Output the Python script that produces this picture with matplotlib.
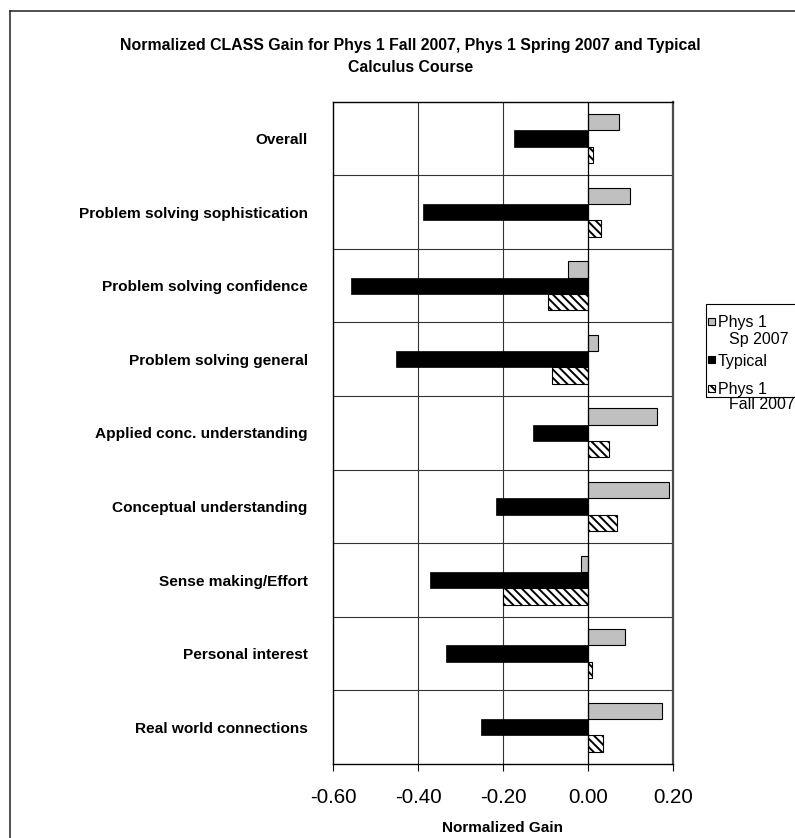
import matplotlib
matplotlib.use("Agg")
import matplotlib.pyplot as plt
from matplotlib.lines import Line2D
from matplotlib.patches import Rectangle
import numpy as np

plt.rcParams['font.family'] = ['Liberation Sans', 'DejaVu Sans']
plt.rcParams['hatch.linewidth'] = 1.4

categories = ["Overall", "Problem solving sophistication", "Problem solving confidence",
              "Problem solving general", "Applied conc. understanding", "Conceptual understanding",
              "Sense making/Effort", "Personal interest", "Real world connections"]
sp2007 = [0.073, 0.098, -0.047, 0.022, 0.162, 0.190, -0.018, 0.086, 0.174]
typical = [-0.175, -0.389, -0.559, -0.452, -0.130, -0.218, -0.372, -0.336, -0.253]
fall2007 = [0.010, 0.029, -0.096, -0.086, 0.048, 0.067, -0.201, 0.008, 0.035]
series_labels = [["Phys 1", "Sp 2007"], ["Typical"], ["Phys 1", "Fall 2007"]]
xticks = [-0.6, -0.4, -0.2, 0.0, 0.2]

W, H = 795.0, 838.0


def fx(px):
    return px / W


def fy(py):
    return 1 - py / H


fig = plt.figure(figsize=(W / 100, H / 100), dpi=100)
ax = fig.add_axes([fx(333.3), fy(764), (673.5 - 333.3) / W, (764 - 101.7) / H])

y = np.arange(len(categories))
h = 0.222
ax.barh(y - h, sp2007, height=h, color="#c0c0c0", edgecolor="black", linewidth=0.8, zorder=3)
ax.barh(y, typical, height=h, color="black", edgecolor="black", linewidth=0.5, zorder=3)
ax.barh(y + h, fall2007, height=h, color="white", edgecolor="black", linewidth=0.8,
        hatch="\\\\\\\\", zorder=3)

ax.set_xlim(-0.6, 0.2)
ax.set_ylim(len(categories) - 0.5, -0.5)

# grid: category boundaries and value gridlines
for b in np.arange(0.5, len(categories) - 0.5, 1):
    ax.axhline(b, color="#333333", lw=0.8, zorder=1)
for v in [-0.4, -0.2]:
    ax.axvline(v, color="#333333", lw=0.8, zorder=1)
ax.axvline(0, color="black", lw=0.9, zorder=4)

ax.set_yticks(y)
ax.set_yticklabels(categories, fontsize=11.1, fontweight="bold")
ax.tick_params(axis="y", length=0, pad=18.4)
ax.set_xticks(xticks)
ax.set_xticklabels(["%.2f" % t for t in xticks], fontsize=14.9)
ax.tick_params(axis="x", length=5, width=0.8, direction="out", pad=12)

for side in ["left", "top", "bottom"]:
    ax.spines[side].set_color("black")
    ax.spines[side].set_linewidth(1.0)
ax.spines["right"].set_color("#4a4a4a")
ax.spines["right"].set_linewidth(1.6)

fig.text(fx(503), fy(832), "Normalized Gain", ha="center", va="baseline",
         fontsize=11, fontweight="bold")
fig.text(fx(410.5), fy(49.8), "Normalized CLASS Gain for Phys 1 Fall 2007, Phys 1 Spring 2007 and Typical",
         ha="center", va="baseline", fontsize=11.4, fontweight="bold")
fig.text(fx(410.5), fy(72.5), "Calculus Course", ha="center", va="baseline",
         fontsize=11.4, fontweight="bold")

# outer chart frame, runs off the right and bottom edges
fig.add_artist(Line2D([fx(10), fx(10)], [fy(11), fy(850)], color="#202020", lw=1.1,
                      transform=fig.transFigure))
fig.add_artist(Line2D([fx(10), fx(810)], [fy(11), fy(11)], color="#202020", lw=1.1,
                      transform=fig.transFigure))

# legend box
fig.add_artist(Rectangle((fx(706), fy(397)), fx(120), (397 - 304) / H, fill=False,
                         edgecolor="black", lw=0.8, transform=fig.transFigure))
marker_styles = [dict(facecolor="#c0c0c0", edgecolor="black"),
                 dict(facecolor="black", edgecolor="black"),
                 dict(facecolor="white", edgecolor="black", hatch="\\\\\\\\")]
line_y = [[321.7, 338.3], [360], [388.3, 403.5]]
ms = 7
for style, lines, ys in zip(marker_styles, series_labels, line_y):
    fig.add_artist(Rectangle((fx(708), fy(ys[0] + ms / 2)), ms / W, ms / H, lw=0.8,
                             transform=fig.transFigure, **style))
    for i, (txt, yy) in enumerate(zip(lines, ys)):
        x0 = 718 if i == 0 else 729
        fig.text(fx(x0), fy(yy + 5.7), txt, ha="left", va="baseline", fontsize=11.5)

fig.savefig("out.png", dpi=100)
